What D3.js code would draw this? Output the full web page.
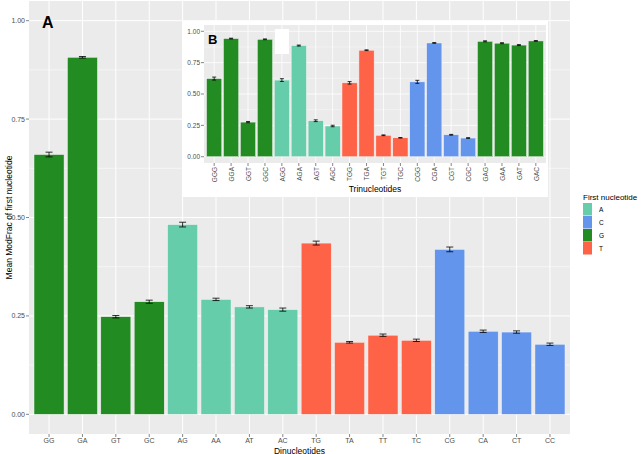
<!DOCTYPE html>
<html><head><meta charset="utf-8">
<script src="https://cdn.jsdelivr.net/npm/d3@7"></script>
<style>body{margin:0;background:#fff}text{font-family:"Liberation Sans",Arial,sans-serif}</style>
</head><body><svg id="c" width="642" height="454"></svg>
<script>
const diCats = ["GG","GA","GT","GC","AG","AA","AT","AC","TG","TA","TT","TC","CG","CA","CT","CC"];
const diFirst = ["G","G","G","G","A","A","A","A","T","T","T","T","C","C","C","C"];
const diMean = [0.660,0.907,0.248,0.286,0.482,0.292,0.273,0.266,0.435,0.183,0.201,0.188,0.419,0.211,0.209,0.178];
const diErr = [0.006,0.002,0.003,0.004,0.006,0.003,0.003,0.004,0.005,0.002,0.003,0.003,0.006,0.003,0.003,0.003];
const triCats = ["GGG","GGA","GGT","GGC","AGG","AGA","AGT","AGC","TGG","TGA","TGT","TGC","CGG","CGA","CGT","CGC","GAG","GAA","GAT","GAC"];
const triFirst = ["G","G","G","G","A","A","A","A","T","T","T","T","C","C","C","C","G","G","G","G"];
const triMean = [0.623,0.942,0.276,0.936,0.611,0.886,0.287,0.245,0.589,0.849,0.171,0.151,0.597,0.907,0.175,0.149,0.920,0.905,0.890,0.923];
const triErr = [0.012,0.003,0.005,0.003,0.011,0.004,0.007,0.006,0.010,0.003,0.003,0.002,0.012,0.003,0.003,0.003,0.004,0.004,0.004,0.003];
const yTicks = [0,0.25,0.5,0.75,1.0];
const legendKeys = ["A","C","G","T"];
const colorMap = {A:"#66CDAA",C:"#6495ED",G:"#228B22",T:"#FF6347"};

const svg = d3.select("#c");
const fmt = d3.format(".2f");

function panel(g, cats, first, mean, err, box, opts){
  const {x0,x1,y0,y1} = box;
  const n = cats.length;
  const step = (x1-x0)/(n-1+1.2);
  const x = d3.scalePoint().domain(cats).range([x0+0.6*step, x1-0.6*step]);
  const y = d3.scaleLinear().domain([-0.05,1.05]).range([y1,y0]);
  g.append("rect").attr("x",x0).attr("y",y0).attr("width",x1-x0).attr("height",y1-y0).attr("fill","#EBEBEB");
  const minor = [0.125,0.375,0.625,0.875];
  g.selectAll(".mn").data(minor).join("line").attr("x1",x0).attr("x2",x1)
    .attr("y1",d=>y(d)).attr("y2",d=>y(d)).attr("stroke","#fff").attr("stroke-width",opts.minW);
  g.selectAll(".mj").data(yTicks).join("line").attr("x1",x0).attr("x2",x1)
    .attr("y1",d=>y(d)).attr("y2",d=>y(d)).attr("stroke","#fff").attr("stroke-width",opts.majW);
  g.selectAll(".vx").data(cats).join("line").attr("y1",y0).attr("y2",y1)
    .attr("x1",d=>x(d)).attr("x2",d=>x(d)).attr("stroke","#fff").attr("stroke-width",opts.majW);
  const bw = step*0.9;
  g.selectAll(".bar").data(cats).join("rect")
    .attr("x",d=>x(d)-bw/2).attr("width",bw)
    .attr("y",(d,i)=>y(mean[i])).attr("height",(d,i)=>y(0)-y(mean[i]))
    .attr("fill",(d,i)=>colorMap[first[i]]).attr("stroke","#f4f4f4").attr("stroke-width",0.5);
  const cw = opts.cap/2;
  const eb = g.selectAll(".eb").data(cats).join("g");
  eb.append("path").attr("d",(d,i)=>{
      const cx=x(d), a=y(mean[i]+err[i]), b=y(mean[i]-err[i]);
      return `M${cx-cw},${a}H${cx+cw}M${cx},${a}V${b}M${cx-cw},${b}H${cx+cw}`;})
    .attr("stroke","#000").attr("stroke-width",0.8).attr("fill","none");
  const ya = g.append("g");
  ya.selectAll("line").data(yTicks).join("line").attr("x1",x0-3).attr("x2",x0)
    .attr("y1",d=>y(d)).attr("y2",d=>y(d)).attr("stroke","#333").attr("stroke-width",0.6);
  ya.selectAll("text").data(yTicks).join("text").attr("x",x0-4).attr("y",d=>y(d)).attr("dy","0.35em")
    .attr("text-anchor","end").attr("font-size",opts.fs).attr("fill","#4D4D4D").text(d=>fmt(d));
  const xa = g.append("g");
  xa.selectAll("line").data(cats).join("line").attr("y1",y1).attr("y2",y1+3)
    .attr("x1",d=>x(d)).attr("x2",d=>x(d)).attr("stroke","#333").attr("stroke-width",0.6);
  if(opts.rot){
    xa.selectAll("text").data(cats).join("text")
      .attr("transform",d=>`translate(${x(d)+0.5},${y1+4}) rotate(-90)`).attr("dy","0.35em")
      .attr("text-anchor","end").attr("font-size",opts.fs).attr("fill","#4D4D4D").text(d=>d);
  } else {
    xa.selectAll("text").data(cats).join("text").attr("x",d=>x(d)).attr("y",y1+9)
      .attr("text-anchor","middle").attr("font-size",opts.fs).attr("fill","#4D4D4D").text(d=>d);
  }
  return {x,y};
}

const main = svg.append("g");
panel(main, diCats, diFirst, diMean, diErr, {x0:29,x1:570,y0:1,y1:434}, {minW:0.5,majW:1,cap:7,fs:7,rot:false});
main.append("text").attr("x",299.5).attr("y",453.5).attr("text-anchor","middle").attr("font-size",8.5).attr("fill","#000").text("Dinucleotides");
main.append("text").attr("transform","translate(9,217.5) rotate(-90)").attr("text-anchor","middle").attr("dy","0.35em")
  .attr("font-size",8.5).attr("fill","#000").text("Mean ModFrac of first nucleotide");
main.append("text").attr("x",42).attr("y",28).attr("font-size",16).attr("font-weight","bold").attr("fill","#000").text("A");

const ins = svg.append("g");
ins.append("rect").attr("x",182).attr("y",21).attr("width",366).attr("height",176).attr("fill","#fff");
panel(ins, triCats, triFirst, triMean, triErr, {x0:204,x1:546,y0:25,y1:163}, {minW:0.4,majW:0.8,cap:4,fs:6.5,rot:true});
ins.append("text").attr("x",375).attr("y",192).attr("text-anchor","middle").attr("font-size",8.5).attr("fill","#000").text("Trinucleotides");
ins.append("text").attr("x",208).attr("y",44).attr("font-size",13).attr("font-weight","bold").attr("fill","#000").text("B");
ins.append("rect").attr("x",275).attr("y",29).attr("width",14).attr("height",25).attr("fill","#fff");

const lg = svg.append("g");
lg.append("text").attr("x",583).attr("y",200).attr("font-size",8).attr("fill","#000").text("First nucleotide");
const li = lg.selectAll(".li").data(legendKeys).join("g").attr("transform",(d,i)=>`translate(583,${203+i*13})`);
li.append("rect").attr("width",9).attr("height",12.5).attr("fill",d=>colorMap[d]);
li.append("text").attr("x",16).attr("y",6.5).attr("dy","0.35em").attr("font-size",6.5).attr("fill","#000").text(d=>d);
</script></body></html>
